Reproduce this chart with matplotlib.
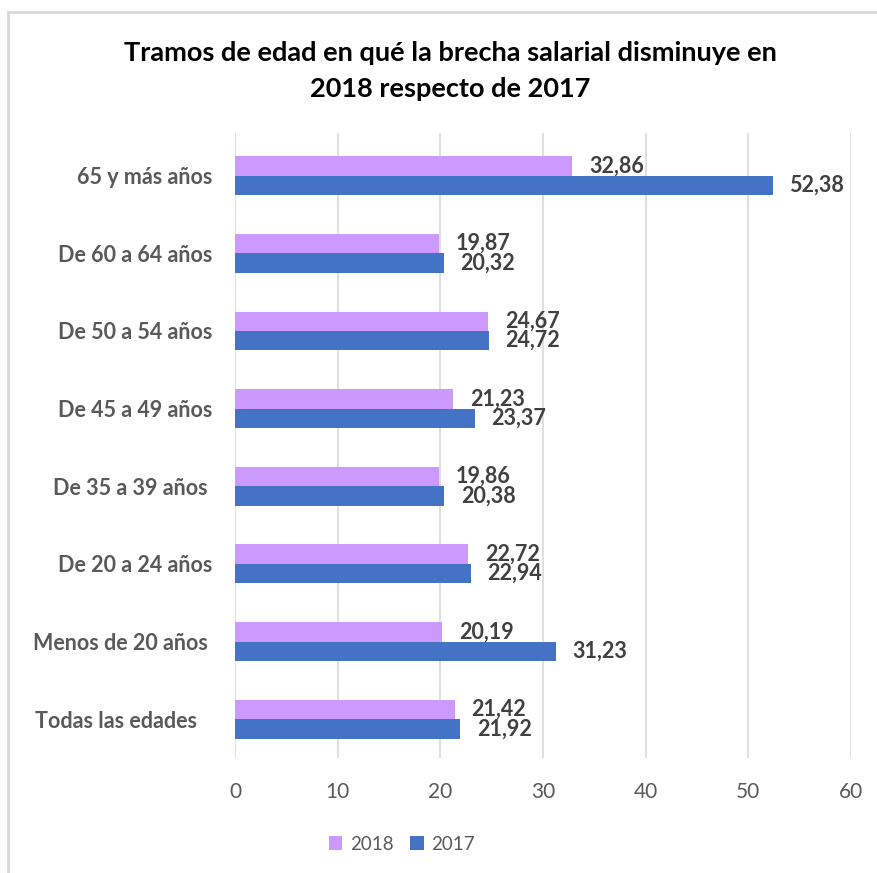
import matplotlib
matplotlib.use("Agg")
import matplotlib.pyplot as plt
import numpy as np
from matplotlib.patches import Rectangle

categories = ["Todas las edades   ", "Menos de 20 años ", "De 20 a 24 años", "De 35 a 39 años ",
              "De 45 a 49 años", "De 50 a 54 años", "De 60 a 64 años", "65 y más años"]
values_2018 = [21.42, 20.19, 22.72, 19.86, 21.23, 24.67, 19.87, 32.86]
values_2017 = [21.92, 31.23, 22.94, 20.38, 23.37, 24.72, 20.32, 52.38]
xticks = [0, 10, 20, 30, 40, 50, 60]

c2018 = "#CC99FF"
c2017 = "#4472C4"

plt.rcParams['font.family'] = ['Lato', 'DejaVu Sans']

fig = plt.figure(figsize=(8.77, 8.73), dpi=100)
fig.patch.set_facecolor("white")
fig.patches.append(Rectangle((8/877, -0.05), 1.2, 1.05 - 12/873, transform=fig.transFigure,
                             fill=False, edgecolor="#D9D9D9", linewidth=2))

ax = fig.add_axes([235/877, 1 - 758/873, (851 - 235)/877, (758 - 133)/873])
y = np.arange(len(categories))
h = 0.25
b1 = ax.barh(y + h/2, values_2018, height=h, color=c2018, label="2018", zorder=3)
b2 = ax.barh(y - h/2, values_2017, height=h, color=c2017, label="2017", zorder=3)

for bars, vals in ((b1, values_2018), (b2, values_2017)):
    for bar, v in zip(bars, vals):
        ax.annotate(f"{v:.2f}".replace(".", ","), (v, bar.get_y() + bar.get_height()/2),
                    xytext=(12, 0), textcoords="offset points", ha="left", va="center",
                    fontsize=15.5, fontweight="bold", color="#404040")

ax.set_xlim(0, 60)
ax.set_ylim(-0.5, len(categories) - 0.45)
ax.set_xticks(xticks)
ax.set_xticklabels([str(t) for t in xticks], fontsize=15, color="#595959")
ax.set_yticks(y)
ax.set_yticklabels(categories, fontsize=15.5, fontweight="bold", color="#595959")
ax.tick_params(axis="both", length=0)
ax.tick_params(axis="x", pad=17)
ax.tick_params(axis="y", pad=16)
for s in ax.spines.values():
    s.set_visible(False)
ax.grid(axis="x", color="#D9D9D9", linewidth=1.2, zorder=0)
ax.set_axisbelow(True)

fig.text(450/877, 1 - 53/873, "Tramos de edad en qué la brecha salarial disminuye en",
         ha="center", va="center", fontsize=19.5, fontweight="bold", color="black")
fig.text(450/877, 1 - 89/873, "2018 respecto de 2017",
         ha="center", va="center", fontsize=19.5, fontweight="bold", color="black")

leg = fig.legend(handles=[b1, b2], labels=["2018", "2017"], loc="center",
                 bbox_to_anchor=(402/877, 1 - 844/873), ncol=2, frameon=False,
                 fontsize=13.5, handlelength=0.7, handleheight=0.7, handletextpad=0.4,
                 columnspacing=0.9)
for t in leg.get_texts():
    t.set_color("#595959")

fig.savefig("out.png", dpi=100, facecolor="white")
